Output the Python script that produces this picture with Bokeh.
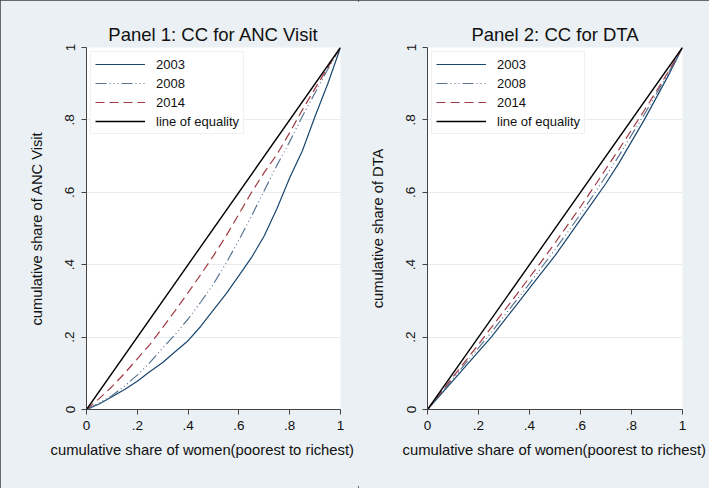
from bokeh.plotting import figure
from bokeh.layouts import row
from bokeh.models import Range1d, FixedTicker, Legend, LegendItem, Title
from bokeh.embed import file_html
from bokeh.resources import INLINE

# ---------------- data ----------------
share_women = [0, .05, .1, .15, .2, .25, .3, .35, .4, .45, .5,
               .55, .6, .65, .7, .75, .8, .85, .9, .95, 1]

# Panel 1: ANC visit
anc_2003 = [0, .015, .035, .055, .078, .105, .13, .16, .19, .23, .275,
            .32, .37, .42, .48, .555, .64, .715, .81, .9, 1]
anc_2008 = [0, .018, .038, .065, .095, .13, .17, .208, .25, .297, .347,
            .405, .468, .535, .605, .675, .74, .81, .875, .94, 1]
anc_2014 = [0, .03, .063, .1, .14, .18, .226, .274, .323, .373, .425,
            .48, .54, .6, .655, .705, .765, .828, .887, .945, 1]

# Panel 2: DTA
dta_2003 = [0, .04, .08, .12, .16, .2, .245, .29, .335, .38, .425,
            .475, .525, .575, .625, .68, .74, .8, .865, .93, 1]
dta_2008 = [0, .042, .085, .128, .17, .213, .258, .303, .348, .395, .442,
            .49, .54, .592, .645, .7, .758, .815, .875, .937, 1]
dta_2014 = [0, .045, .09, .135, .18, .226, .272, .318, .365, .412, .46,
            .51, .56, .612, .665, .718, .772, .826, .882, .94, 1]

equality = [0, 1]

tick_vals = [0, 0.2, 0.4, 0.6, 0.8, 1]
tick_labels = ["0", ".2", ".4", ".6", ".8", "1"]

series_names = ["2003", "2008", "2014", "line of equality"]
titles = ["Panel 1: CC for ANC Visit", "Panel 2: CC for DTA"]
ylabels = ["cumulative share of ANC Visit", "cumulative share of DTA"]
xlabel = "cumulative share of women(poorest to richest)"

# ---------------- style ----------------
BG = "#eaf0f3"
FONT = "Liberation Sans"
colors = ["#1a476f", "#5a7594", "#a03a44", "#000000"]
dashes = ["solid", "11 3 1 3 1 3 1 3", "9 5", "solid"]
widths = [1.2, 1.2, 1.2, 1.4]


def make_panel(title, ylabel, curves, fw, left_border, right_border, xlab_offset):
    p = figure(frame_width=fw, frame_height=362,
               x_range=Range1d(0, 1), y_range=Range1d(0, 1),
               output_backend="svg", toolbar_location=None,
               min_border_left=left_border, min_border_right=right_border,
               min_border_top=47, min_border_bottom=79,
               background_fill_color="white", border_fill_color=BG,
               outline_line_color=None)
    p.title.text = title
    p.title.align = "center"
    p.title.text_font = FONT
    p.title.text_font_size = "18.5px"
    p.title.text_font_style = "normal"
    p.title.text_color = "#111111"
    p.title.standoff = 6

    for ax in (p.xaxis[0], p.yaxis[0]):
        ax.ticker = FixedTicker(ticks=tick_vals)
        ax.major_label_overrides = dict(zip(tick_vals, tick_labels))
        ax.major_label_text_font = FONT
        ax.major_label_text_font_size = "13.5px"
        ax.major_label_text_color = "#111111"
        ax.axis_line_color = "#444444"
        ax.major_tick_line_color = "#444444"
        ax.major_tick_out = 5
        ax.major_tick_in = 0
        ax.minor_tick_line_color = None
    p.xaxis[0].major_label_standoff = 6
    p.yaxis[0].major_label_standoff = 7
    p.yaxis[0].major_label_orientation = "vertical"
    p.yaxis[0].axis_label = ylabel
    p.yaxis[0].axis_label_text_font = FONT
    p.yaxis[0].axis_label_text_font_size = "14.7px"
    p.yaxis[0].axis_label_text_font_style = "normal"
    p.yaxis[0].axis_label_text_color = "#111111"
    p.yaxis[0].axis_label_standoff = 18

    # x-axis title, placed as in the reference (left-aligned with an offset)
    p.add_layout(Title(text=xlabel, align="left", offset=xlab_offset,
                       text_font=FONT, text_font_size="14.8px",
                       text_font_style="normal", text_color="#111111",
                       standoff=14), "below")

    p.xgrid.grid_line_color = None
    p.ygrid.grid_line_color = "#e4ecef"
    p.ygrid.ticker = FixedTicker(ticks=tick_vals)

    items = []
    for name, ys, c, d, w in zip(series_names, curves, colors, dashes, widths):
        xs = share_women if len(ys) == len(share_women) else equality
        r = p.line(xs, ys, line_color=c, line_dash=d, line_width=w)
        items.append(LegendItem(label=name, renderers=[r]))

    leg = Legend(items=items, location="top_left", margin=4, padding=4,
                 spacing=3, glyph_width=50, glyph_height=16, label_height=16,
                 label_standoff=11, label_text_font=FONT,
                 label_text_font_size="13px", label_text_color="#111111",
                 border_line_color="#dfe6ea", background_fill_color="white",
                 background_fill_alpha=1.0)
    p.add_layout(leg)
    return p


p1 = make_panel(titles[0], ylabels[0], [anc_2003, anc_2008, anc_2014, equality],
                254, 86, 18, -36)
p2 = make_panel(titles[1], ylabels[1], [dta_2003, dta_2008, dta_2014, equality],
                255, 69, 27, -25)

layout = row(p1, p2, spacing=0,
             styles={"background-color": BG, "outline": "2px solid #3a3f44",
                     "outline-offset": "-2px"})
open("out.html", "w").write(file_html(layout, INLINE))
